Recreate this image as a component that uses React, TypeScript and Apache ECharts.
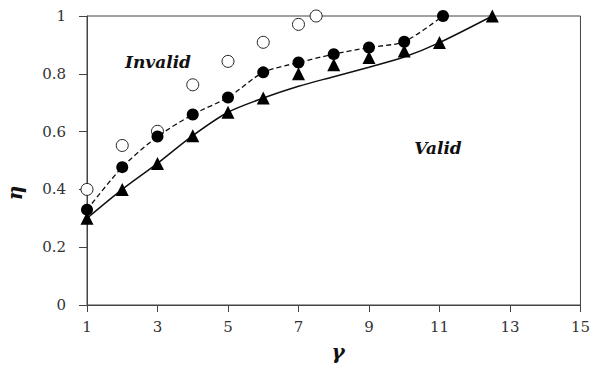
import React, { useEffect, useRef } from "react";
import * as echarts from "echarts";

const filledX = [1, 2, 3, 4, 5, 6, 7, 8, 9, 10, 11.1];
const filledEta = [0.33, 0.477, 0.583, 0.659, 0.718, 0.805, 0.839, 0.868, 0.891, 0.911, 1.0];

const openX = [1, 2, 3, 4, 5, 6, 7, 7.5];
const openEta = [0.4, 0.552, 0.601, 0.762, 0.843, 0.909, 0.971, 1.0];

const triX = [1, 2, 3, 4, 5, 6, 7, 8, 9, 10, 11, 12.5];
const triEta = [0.3, 0.4, 0.49, 0.586, 0.667, 0.716, 0.8, 0.831, 0.856, 0.879, 0.908, 1.0];

const fitX = [1, 2, 3, 4, 5, 6, 7, 8, 9, 10, 11, 12.5];
const fitEta = [0.3, 0.4, 0.49, 0.586, 0.667, 0.716, 0.757, 0.79, 0.823, 0.858, 0.908, 1.0];

const xTicks = [1, 3, 5, 7, 9, 11, 13, 15];
const yTicks = [0, 0.2, 0.4, 0.6, 0.8, 1];

const zip = (xs: number[], ys: number[]) => xs.map((x, i) => [x, ys[i]]);

const SERIF = "DejaVu Serif";
const AXIS = "#444";

const label = (text: string, x: number, y: number, size: number, rotation = 0) => ({
  type: "text",
  x,
  y,
  rotation,
  style: {
    text,
    font: `italic bold ${size}px ${SERIF}`,
    fill: "#111",
    align: "center",
    verticalAlign: "middle",
  },
});

export default function App() {
  const ref = useRef<HTMLDivElement>(null);
  useEffect(() => {
    if (!ref.current) return;
    const chart = echarts.init(ref.current, undefined, { renderer: "svg" });
    chart.setOption({
      animation: false,
      backgroundColor: "#fff",
      textStyle: { fontFamily: SERIF },
      grid: {
        left: 87,
        right: 7,
        top: 16,
        bottom: 66,
        show: true,
        borderColor: AXIS,
        borderWidth: 1,
      },
      xAxis: {
        type: "value",
        min: xTicks[0],
        max: xTicks[xTicks.length - 1],
        interval: 2,
        splitLine: { show: false },
        axisLine: { lineStyle: { color: AXIS, width: 1 } },
        axisTick: { show: true, length: 7, inside: false, lineStyle: { color: AXIS } },
        axisLabel: { margin: 14, fontFamily: SERIF, fontSize: 15, color: "#333" },
      },
      yAxis: {
        type: "value",
        min: yTicks[0],
        max: yTicks[yTicks.length - 1],
        interval: 0.2,
        splitLine: { show: false },
        axisLine: { show: true, lineStyle: { color: AXIS, width: 1 } },
        axisTick: { show: true, length: 8, inside: false, lineStyle: { color: AXIS } },
        axisLabel: { margin: 21, fontFamily: SERIF, fontSize: 15, color: "#333" },
      },
      graphic: [
        label("Invalid", 158, 62, 17),
        label("Valid", 438, 148, 17),
        label("γ", 338, 352, 20),
        label("η", 15, 193, 20, Math.PI / 2),
      ],
      series: [
        {
          type: "scatter",
          data: zip(openX, openEta),
          symbol: "circle",
          symbolSize: 12,
          itemStyle: { color: "#fff", borderColor: "#222", borderWidth: 1, opacity: 1 },
          z: 2,
        },
        {
          type: "line",
          data: zip(fitX, fitEta),
          showSymbol: false,
          symbol: "none",
          smooth: 0.3,
          lineStyle: { color: "#111", width: 1.5, type: "solid" },
          z: 3,
        },
        {
          type: "scatter",
          data: zip(triX, triEta),
          symbol: "triangle",
          symbolSize: 13,
          itemStyle: { color: "#000", opacity: 1 },
          z: 4,
        },
        {
          type: "line",
          data: zip(filledX, filledEta),
          symbol: "circle",
          symbolSize: 12,
          smooth: 0.25,
          lineStyle: { color: "#111", width: 1.3, type: [5, 3] },
          itemStyle: { color: "#000" },
          z: 5,
        },
      ],
    });
    return () => chart.dispose();
  }, []);
  return (
    <div
      ref={ref}
      style={{ position: "fixed", left: 0, top: 0, width: 593, height: 371, background: "#fff" }}
    />
  );
}
